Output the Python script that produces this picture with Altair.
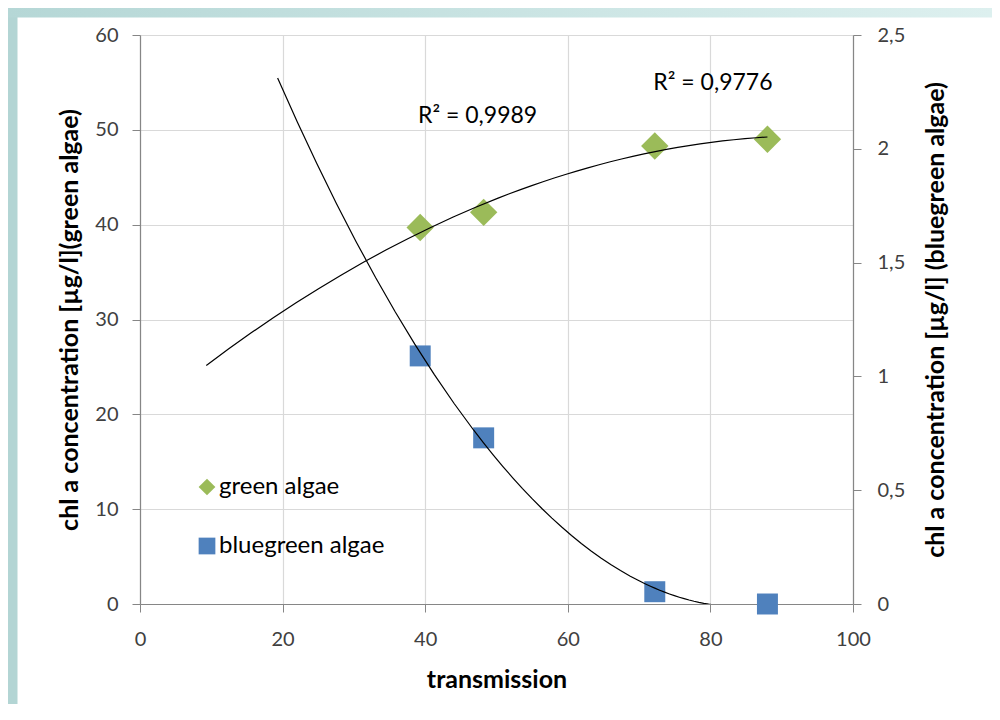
import altair as alt
import pandas as pd

# ---- data ----
transmission = [39.3, 48.2, 72.2, 88.0]
green_algae = [39.7, 41.3, 48.3, 49.0]
bluegreen_algae = [1.09, 0.73, 0.054, 0.0]

series_names = ["green algae", "bluegreen algae"]
series_colors = ["#9bbb59", "#4f81bd"]
series_shapes = ["diamond", "square"]

x_ticks = [0, 20, 40, 60, 80, 100]
left_ticks = [0, 10, 20, 30, 40, 50, 60]
right_ticks = [0, 0.5, 1, 1.5, 2, 2.5]

r2_labels = ["R² = 0,9989", "R² = 0,9776"]
r2_x = [39.0, 72.0]
r2_y = [51.5, 54.9]

green_extent = [9.3, 88.0]   # trendline with backward forecast
blue_extent = [19.3, 88.0]

FONT = "Lato"
LABEL_COLOR = "#404040"
AXIS_COLOR = "#868686"
GRID_COLOR = "#d9d9d9"

green_df = pd.DataFrame({"t": transmission, "g": green_algae, "series": series_names[0]})
blue_df = pd.DataFrame({"t": transmission, "b": bluegreen_algae, "series": series_names[1]})
r2_df = pd.DataFrame({"t": r2_x, "g": r2_y, "label": r2_labels})

# ---- shared encodings ----
x_enc = alt.X(
    "t:Q",
    scale=alt.Scale(domain=[0, 100], nice=False, zero=False),
    axis=alt.Axis(
        values=x_ticks, title="transmission", grid=True, gridColor=GRID_COLOR, gridWidth=1.2,
        domainColor=AXIS_COLOR, domainWidth=1.2, tickColor=AXIS_COLOR, tickSize=8,
        labelFont=FONT, labelFontSize=20, labelColor=LABEL_COLOR, labelPadding=17,
        labelFlush=False,
        titleFont=FONT, titleFontSize=25, titleFontWeight="bold", titleColor="#000",
        titlePadding=18, format="d",
    ),
)

left_scale = alt.Scale(domain=[0, 60], nice=False, zero=False)
right_scale = alt.Scale(domain=[0, 2.5], nice=False, zero=False)

left_axis = alt.Axis(
    orient="left", values=left_ticks, grid=True, gridColor=GRID_COLOR, gridWidth=1.2,
    domainColor=AXIS_COLOR, domainWidth=1.2, tickColor=AXIS_COLOR, tickSize=8,
    labelFont=FONT, labelFontSize=20, labelColor=LABEL_COLOR, labelPadding=14,
    labelFlush=False,
    title="chl a concentration [µg/l](green algae)",
    titleFont=FONT, titleFontSize=25, titleFontWeight="bold", titleColor="#000",
    titlePadding=12, format="d",
)
right_axis = alt.Axis(
    orient="right", values=right_ticks, grid=False,
    domainColor=AXIS_COLOR, domainWidth=1.2, tickColor=AXIS_COLOR, tickSize=8,
    labelFont=FONT, labelFontSize=20, labelColor=LABEL_COLOR, labelPadding=16,
    labelFlush=False,
    labelExpr="replace(format(datum.value, '~g'), '.', ',')",
    title="chl a concentration [µg/l] (bluegreen algae)", titleAngle=270,
    titleFont=FONT, titleFontSize=25, titleFontWeight="bold", titleColor="#000",
    titlePadding=44,
)

legend = alt.Legend(
    title=None, orient="none", legendX=55, legendY=440, direction="vertical",
    symbolSize=280, symbolStrokeWidth=0, symbolOpacity=1, padding=0,
    labelFont=FONT, labelFontSize=24, labelColor="#000", labelOffset=0, rowPadding=35,
    labelLimit=400,
)
color_enc = alt.Color("series:N", scale=alt.Scale(domain=series_names, range=series_colors), legend=legend)
shape_enc = alt.Shape("series:N", scale=alt.Scale(domain=series_names, range=series_shapes), legend=legend)

# ---- decorative frame strips (outside plot area) ----
one = pd.DataFrame({"a": [0]})
left_strip = alt.Chart(one).mark_rect(color="#b3d5d4").encode(
    x=alt.value(-132), x2=alt.value(-122.5), y=alt.value(-27), y2=alt.value(680)
)
top_strip = alt.Chart(one).mark_rect(
    color=alt.LinearGradient(
        gradient="linear",
        stops=[alt.GradientStop(color="#b5d7d6", offset=0), alt.GradientStop(color="#ddf0ef", offset=1)],
        x1=0, x2=1, y1=0, y2=0,
    )
).encode(x=alt.value(-132), x2=alt.value(852), y=alt.value(-27), y2=alt.value(-17.5))

# ---- green algae (left axis) ----
y_green = alt.Y("g:Q", scale=left_scale, axis=left_axis)
green_pts = alt.Chart(green_df).mark_point(filled=True, size=750, opacity=1, strokeWidth=0).encode(
    x=x_enc, y=y_green, color=color_enc, shape=shape_enc
)
green_trend = alt.Chart(green_df).transform_regression(
    "t", "g", method="poly", order=2, extent=green_extent
).mark_line(color="#000000", strokeWidth=1.2).encode(x=x_enc, y=y_green)
r2_text = alt.Chart(r2_df).mark_text(
    align="left", baseline="middle", font=FONT, fontSize=23, color="#000"
).encode(x=x_enc, y=y_green, text="label:N")

green_layer = alt.layer(green_pts, green_trend, r2_text)

# ---- bluegreen algae (right axis) ----
y_blue = alt.Y("b:Q", scale=right_scale, axis=right_axis)
blue_pts = alt.Chart(blue_df).mark_point(filled=True, size=440, opacity=1, strokeWidth=0).encode(
    x=x_enc, y=y_blue, color=color_enc, shape=shape_enc
)
blue_trend = alt.Chart(blue_df).transform_regression(
    "t", "b", method="poly", order=2, extent=blue_extent
).mark_line(color="#000000", strokeWidth=1.2, clip=True).encode(x=x_enc, y=y_blue)

blue_layer = alt.layer(blue_pts, blue_trend)

chart = alt.layer(left_strip, top_strip, green_layer, blue_layer).resolve_scale(
    y="independent"
).properties(
    width=713, height=569,
    autosize=alt.AutoSizeParams(type="none"),
    padding={"left": 132, "top": 27, "right": 139, "bottom": 100},
    background="white",
).configure_view(strokeWidth=0)

chart.save("out.html", embed_options={"renderer": "svg", "actions": False})
